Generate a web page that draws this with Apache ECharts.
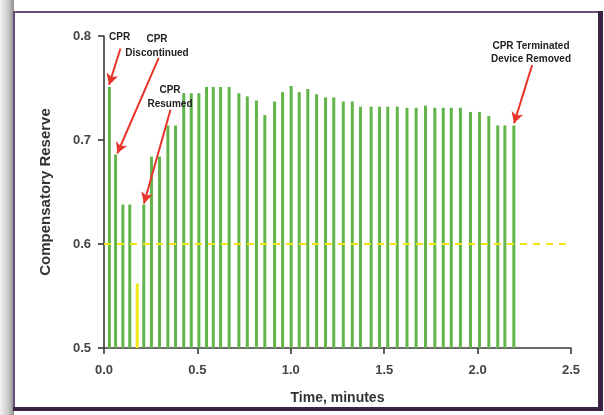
<!DOCTYPE html>
<html>
<head>
<meta charset="utf-8">
<script src="https://cdn.jsdelivr.net/npm/echarts@6/dist/echarts.min.js"></script>
<style>
html,body{margin:0;padding:0;background:#ffffff;}
#chart{width:604px;height:415px;}
</style>
</head>
<body>
<div id="chart"></div>
<script>
// Time (minutes) of each measurement
const greenTimes = [0.029, 0.062, 0.101, 0.138, 0.213, 0.254, 0.297, 0.342, 0.383, 0.427,
  0.467, 0.508, 0.549, 0.585, 0.624, 0.670, 0.722, 0.767, 0.816, 0.861,
  0.913, 0.956, 1.002, 1.045, 1.091, 1.138, 1.186, 1.230, 1.281, 1.329,
  1.373, 1.430, 1.475, 1.519, 1.570, 1.622, 1.671, 1.721, 1.771, 1.816,
  1.859, 1.908, 1.962, 2.010, 2.060, 2.108, 2.146, 2.194];
// Compensatory reserve values
const greenValues = [0.751, 0.686, 0.638, 0.638, 0.638, 0.684, 0.684, 0.714, 0.714, 0.745,
  0.745, 0.745, 0.751, 0.751, 0.751, 0.751, 0.745, 0.742, 0.738, 0.724,
  0.737, 0.746, 0.752, 0.746, 0.749, 0.744, 0.741, 0.741, 0.737, 0.737,
  0.732, 0.732, 0.732, 0.732, 0.732, 0.731, 0.731, 0.733, 0.731, 0.731,
  0.731, 0.731, 0.727, 0.727, 0.723, 0.714, 0.714, 0.714];
// The single low (yellow) reading
const yellowTimes = [0.178];
const yellowValues = [0.562];
// Threshold line
const thresholdValue = 0.6;
// Axis ranges / ticks
const xTicks = [0.0, 0.5, 1.0, 1.5, 2.0, 2.5];
const yTicks = [0.5, 0.6, 0.7, 0.8];
// Annotation arrows: [tail, tip] in data coords
const arrowTails = [[0.088, 0.788], [0.293, 0.779], [0.356, 0.729], [2.292, 0.772]];
const arrowTips  = [[0.027, 0.753], [0.071, 0.687], [0.214, 0.639], [2.195, 0.716]];

const chart = echarts.init(document.getElementById('chart'), null, {renderer: 'canvas'});

const greenData = greenTimes.map((t, i) => [t, greenValues[i]]);
const yellowData = yellowTimes.map((t, i) => [t, yellowValues[i]]);

const font = 'Liberation Sans, Arial, sans-serif';
const annColor = '#e8352b';

const option = {
  animation: false,
  backgroundColor: 'transparent',
  grid: {left: 104, right: 33, top: 36, bottom: 67, containLabel: false},
  xAxis: {
    type: 'value',
    min: xTicks[0], max: xTicks[xTicks.length - 1], interval: 0.5,
    name: 'Time, minutes',
    nameLocation: 'middle',
    nameGap: 43,
    nameTextStyle: {fontFamily: font, fontWeight: 'bold', fontSize: 14, color: '#333'},
    axisLine: {show: true, onZero: false, lineStyle: {color: '#3a3a3a', width: 1.6}},
    axisTick: {show: true, length: 6, lineStyle: {color: '#3a3a3a', width: 1.6}},
    axisLabel: {fontFamily: font, fontWeight: 'bold', fontSize: 13, color: '#444', margin: 16,
      formatter: v => v.toFixed(1)},
    splitLine: {show: false}
  },
  yAxis: {
    type: 'value',
    min: yTicks[0], max: yTicks[yTicks.length - 1], interval: 0.1,
    name: 'Compensatory Reserve',
    nameLocation: 'middle',
    nameGap: 51,
    nameRotate: 90,
    nameTextStyle: {fontFamily: font, fontWeight: 'bold', fontSize: 15, color: '#333'},
    axisLine: {show: true, onZero: false, lineStyle: {color: '#3a3a3a', width: 1.6}},
    axisTick: {show: true, length: 6, lineStyle: {color: '#3a3a3a', width: 1.6}},
    axisLabel: {fontFamily: font, fontWeight: 'bold', fontSize: 13, color: '#444', margin: 13,
      formatter: v => v.toFixed(1)},
    splitLine: {show: false}
  },
  series: [
    {
      type: 'bar',
      data: greenData,
      barWidth: 3,
      clip: true,
      itemStyle: {color: '#62b54a'},
      markLine: {
        silent: true,
        symbol: ['none', 'none'],
        label: {show: false},
        lineStyle: {color: '#f2e415', type: [7, 6], width: 2},
        data: [{yAxis: thresholdValue}]
      }
    },
    {
      type: 'bar',
      data: yellowData,
      barWidth: 3,
      barGap: '-100%',
      clip: true,
      itemStyle: {color: '#f3e81a'},
      markLine: {
        silent: true,
        symbol: ['none', 'arrow'],
        symbolSize: [9, 11],
        label: {show: false},
        lineStyle: {color: annColor, type: 'solid', width: 2},
        data: arrowTails.map((t, i) => [{coord: t}, {coord: arrowTips[i]}])
      }
    }
  ],
  graphic: [
    // left shadow of frame
    {type: 'rect', left: 0, top: 0, shape: {width: 14, height: 415}, z: -10,
      style: {fill: new echarts.graphic.LinearGradient(0, 0, 1, 0, [
        {offset: 0, color: '#f2f2f2'}, {offset: 0.6, color: '#c8c8c8'}, {offset: 1, color: '#8d8d8d'}])}},
    // panel frame
    {type: 'rect', left: 13, top: 11, shape: {width: 586, height: 398}, z: -5,
      style: {fill: '#ffffff', stroke: '#6c4e7c', lineWidth: 2}},
    // thicker dark right & bottom edges
    {type: 'rect', left: 598, top: 11, shape: {width: 5, height: 400}, z: -4,
      style: {fill: '#3b2344'}},
    {type: 'rect', left: 13, top: 407, shape: {width: 590, height: 4}, z: -4,
      style: {fill: '#3b2344'}},
    // annotation texts
    {type: 'text', left: 109, top: 32, z: 10,
      style: {text: 'CPR', font: 'bold 10px ' + font, fill: '#222'}},
    {type: 'text', x: 157, y: 32, z: 10,
      style: {text: 'CPR\nDiscontinued', font: 'bold 10px ' + font, fill: '#222',
        textAlign: 'center', lineHeight: 14}},
    {type: 'text', x: 170, y: 83, z: 10,
      style: {text: 'CPR\nResumed', font: 'bold 10px ' + font, fill: '#222',
        textAlign: 'center', lineHeight: 14}},
    {type: 'text', x: 531, y: 40, z: 10,
      style: {text: 'CPR Terminated\nDevice Removed', font: 'bold 10px ' + font, fill: '#222',
        textAlign: 'center', lineHeight: 13}}
  ]
};

chart.setOption(option);
</script>
</body>
</html>
